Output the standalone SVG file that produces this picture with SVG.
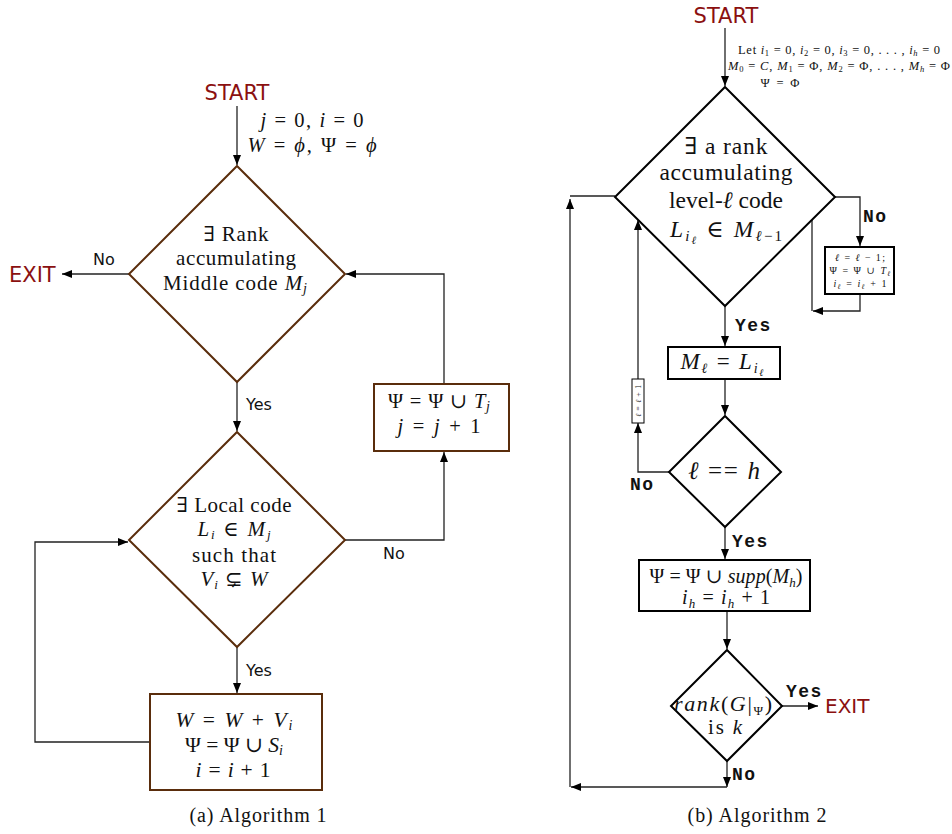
<svg xmlns="http://www.w3.org/2000/svg" width="952" height="834" viewBox="0 0 952 834">
<style>
.bg{fill:#fff}
.m{font-family:"Liberation Serif","DejaVu Serif","Times New Roman",serif;fill:#111}
.i{font-style:italic}
.red{font-family:"DejaVu Sans","Noto Sans",sans-serif;fill:#8b1010}
.lab{font-family:"DejaVu Sans","Noto Sans",sans-serif;font-size:16px;fill:#111}
.tt{font-family:"Liberation Mono","Courier New",monospace;font-weight:bold;font-size:18px;letter-spacing:1.5px;fill:#111}
.bn{fill:#fff;stroke:#5a2d0c;stroke-width:2}
.kn{fill:#fff;stroke:#000;stroke-width:2}
.c{fill:none;stroke:#222;stroke-width:1.3}
.ca{fill:none;stroke:#222;stroke-width:1.3;marker-end:url(#ah)}
</style>
<defs>
<marker id="ah" markerUnits="userSpaceOnUse" markerWidth="10" markerHeight="8" refX="10" refY="4" orient="auto">
<path d="M0,0 L10,4 L0,8 z" fill="#000"/>
</marker>
</defs>
<rect class="bg" x="0" y="0" width="952" height="834"/>

<!-- ============ Algorithm 1 ============ -->
<g id="connectors-a">
<path class="ca" d="M237,106 L237,165"/>
<path class="ca" d="M129,274 L62,274"/>
<path class="ca" d="M237,382 L237,431"/>
<path class="ca" d="M444,384 L444,274 L346,274"/>
<path class="ca" d="M345,540 L444,540 L444,452"/>
<path class="ca" d="M237,647 L237,693"/>
<path class="ca" d="M150,742 L35,742 L35,542 L128,542"/>
</g>

<g id="a-start"><text class="red" x="237" y="100" font-size="21" text-anchor="middle">START</text></g>
<g id="a-init">
<text class="m" x="312" y="127" font-size="20.5" text-anchor="middle" textLength="103" lengthAdjust="spacing"><tspan class="i">j</tspan> = 0, <tspan class="i">i</tspan> = 0</text>
<text class="m" x="312" y="152" font-size="20.5" text-anchor="middle" textLength="129" lengthAdjust="spacing"><tspan class="i">W</tspan> = <tspan class="i">ϕ</tspan>, Ψ = <tspan class="i">ϕ</tspan></text>
</g>
<g id="a-exit"><text class="red" x="9" y="282" font-size="21">EXIT</text></g>
<g id="a-labels">
<text class="lab" x="93" y="265">No</text>
<text class="lab" x="246" y="410">Yes</text>
<text class="lab" x="383" y="559">No</text>
<text class="lab" x="246" y="676">Yes</text>
</g>

<g id="a-d1">
<polygon class="bn" points="237,166 345,274 237,382 129,274"/>
<text class="m" x="236" y="241" font-size="21" text-anchor="middle" textLength="65" lengthAdjust="spacing">∃ Rank</text>
<text class="m" x="236" y="265" font-size="21" text-anchor="middle" textLength="120" lengthAdjust="spacing">accumulating</text>
<text class="m" x="235" y="290" font-size="21" text-anchor="middle" textLength="144" lengthAdjust="spacing">Middle code <tspan class="i">M</tspan><tspan class="i" font-size="14" dy="3">j</tspan></text>
</g>

<g id="a-box-t">
<rect class="bn" x="374" y="384" width="135" height="67"/>
<text class="m" x="439" y="408" font-size="20.5" text-anchor="middle" textLength="102" lengthAdjust="spacing">Ψ = Ψ ∪ <tspan class="i">T</tspan><tspan class="i" font-size="14" dy="3">j</tspan></text>
<text class="m" x="439" y="433" font-size="20.5" text-anchor="middle" textLength="83" lengthAdjust="spacing"><tspan class="i">j</tspan> = <tspan class="i">j</tspan> + 1</text>
</g>

<g id="a-d2">
<polygon class="bn" points="237,432 345,540 237,647 129,540"/>
<text class="m" x="234" y="512" font-size="21" text-anchor="middle" textLength="115" lengthAdjust="spacing">∃ Local code</text>
<text class="m" x="234" y="536" font-size="21" text-anchor="middle" textLength="73" lengthAdjust="spacing"><tspan class="i">L</tspan><tspan class="i" font-size="13" dy="3">i</tspan><tspan dy="-3"> ∈ </tspan><tspan class="i">M</tspan><tspan class="i" font-size="13" dy="3">j</tspan></text>
<text class="m" x="234" y="562" font-size="21" text-anchor="middle" textLength="84" lengthAdjust="spacing">such that</text>
<text class="m" x="234" y="586" font-size="21" text-anchor="middle" textLength="67" lengthAdjust="spacing"><tspan class="i">V</tspan><tspan class="i" font-size="13" dy="3">i</tspan><tspan dy="-3"> ⊊ </tspan><tspan class="i">W</tspan></text>
</g>

<g id="a-box-w">
<rect class="bn" x="150" y="694" width="172" height="96"/>
<text class="m" x="234" y="727" font-size="21.5" text-anchor="middle" textLength="117" lengthAdjust="spacing"><tspan class="i">W</tspan> = <tspan class="i">W</tspan> + <tspan class="i">V</tspan><tspan class="i" font-size="14" dy="3">i</tspan></text>
<text class="m" x="234" y="752" font-size="21.5" text-anchor="middle" textLength="98" lengthAdjust="spacing">Ψ = Ψ ∪ <tspan class="i">S</tspan><tspan class="i" font-size="14" dy="3">i</tspan></text>
<text class="m" x="233" y="777" font-size="21.5" text-anchor="middle" textLength="75" lengthAdjust="spacing"><tspan class="i">i</tspan> = <tspan class="i">i</tspan> + 1</text>
</g>

<g id="caption-a"><text class="m" x="258" y="822" font-size="20" text-anchor="middle" textLength="137" lengthAdjust="spacing">(a)  Algorithm 1</text></g>

<!-- ============ Algorithm 2 ============ -->
<g id="connectors-b">
<path class="ca" d="M725,28 L725,86"/>
<path class="ca" d="M835,197 L860,197 L860,246"/>
<path class="ca" d="M860,294 L860,311 L813,311"/>
<path class="c" d="M812,219 L812,311"/>
<path class="ca" d="M725,306 L725,346"/>
<path class="ca" d="M725,379 L725,415"/>
<path class="ca" d="M669,472 L638,472 L638,423"/>
<path class="ca" d="M638,379 L638,220"/>
<path class="ca" d="M725,527 L725,559"/>
<path class="ca" d="M727,611 L727,649"/>
<path class="ca" d="M782,706 L818,706"/>
<path class="ca" d="M727,761 L727,787"/>
<path class="ca" d="M727,787 L571,787"/>
<path class="ca" d="M570,787 L570,199"/>
<path class="c" d="M570,196 L615,196"/>
</g>

<g id="b-start"><text class="red" x="726" y="23" font-size="21" text-anchor="middle">START</text></g>
<g id="b-init">
<text class="m" x="839" y="54" font-size="12.5" text-anchor="middle" textLength="202" lengthAdjust="spacing">Let <tspan class="i">i</tspan><tspan font-size="8.5" dy="2">1</tspan><tspan dy="-2"> = 0, </tspan><tspan class="i">i</tspan><tspan font-size="8.5" dy="2">2</tspan><tspan dy="-2"> = 0, </tspan><tspan class="i">i</tspan><tspan font-size="8.5" dy="2">3</tspan><tspan dy="-2"> = 0, . . . , </tspan><tspan class="i">i</tspan><tspan class="i" font-size="8.5" dy="2">h</tspan><tspan dy="-2"> = 0</tspan></text>
<text class="m" x="839" y="70" font-size="12.5" text-anchor="middle" textLength="222" lengthAdjust="spacing"><tspan class="i">M</tspan><tspan font-size="8.5" dy="2">0</tspan><tspan dy="-2"> = </tspan><tspan class="i">C</tspan>, <tspan class="i">M</tspan><tspan font-size="8.5" dy="2">1</tspan><tspan dy="-2"> = Φ, </tspan><tspan class="i">M</tspan><tspan font-size="8.5" dy="2">2</tspan><tspan dy="-2"> = Φ, . . . , </tspan><tspan class="i">M</tspan><tspan class="i" font-size="8.5" dy="2">h</tspan><tspan dy="-2"> = Φ</tspan></text>
<text class="m" x="780" y="87" font-size="12.5" text-anchor="middle" textLength="39" lengthAdjust="spacing">Ψ = Φ</text>
</g>

<g id="b-labels">
<text class="tt" x="863" y="222">No</text>
<text class="tt" x="735" y="331">Yes</text>
<text class="tt" x="630" y="490">No</text>
<text class="tt" x="732" y="547">Yes</text>
<text class="tt" x="786" y="697" font-size="14" letter-spacing="1">Yes</text>
<text class="tt" x="732" y="780">No</text>
</g>
<g id="b-exit"><text class="red" x="825" y="713" font-size="20">EXIT</text></g>

<g id="b-d1">
<polygon class="kn" points="725,87 835,197 725,306 615,197"/>
<text class="m" x="726" y="154" font-size="23.5" text-anchor="middle" textLength="83" lengthAdjust="spacing">∃ a rank</text>
<text class="m" x="726" y="180" font-size="23.5" text-anchor="middle" textLength="133" lengthAdjust="spacing">accumulating</text>
<text class="m" x="726" y="208" font-size="23.5" text-anchor="middle" textLength="114" lengthAdjust="spacing">level-<tspan class="i">ℓ</tspan> code</text>
<text class="m" x="726" y="237" font-size="23.5" text-anchor="middle" textLength="112" lengthAdjust="spacing"><tspan class="i">L</tspan><tspan class="i" font-size="15" dy="4">i</tspan><tspan class="i" font-size="11" dy="3">ℓ</tspan><tspan dy="-7"> ∈ </tspan><tspan class="i">M</tspan><tspan class="i" font-size="15" dy="4">ℓ</tspan><tspan font-size="15">−1</tspan></text>
</g>

<g id="b-box-dec">
<rect class="kn" x="825" y="247" width="69" height="47"/>
<text class="m" x="860" y="261" font-size="10" text-anchor="middle" textLength="50" lengthAdjust="spacing"><tspan class="i">ℓ</tspan> = <tspan class="i">ℓ</tspan> − 1;</text>
<text class="m" x="860" y="274" font-size="10" text-anchor="middle" textLength="61" lengthAdjust="spacing">Ψ = Ψ ∪ <tspan class="i">T</tspan><tspan class="i" font-size="7" dy="2">ℓ</tspan></text>
<text class="m" x="860" y="287" font-size="10" text-anchor="middle" textLength="53" lengthAdjust="spacing"><tspan class="i">i</tspan><tspan class="i" font-size="7" dy="2">ℓ</tspan><tspan dy="-2"> = </tspan><tspan class="i">i</tspan><tspan class="i" font-size="7" dy="2">ℓ</tspan><tspan dy="-2"> + 1</tspan></text>
</g>

<g id="b-box-m">
<rect class="kn" x="668" y="347" width="112" height="32"/>
<text class="m" x="722" y="369" font-size="23" text-anchor="middle" textLength="83" lengthAdjust="spacing"><tspan class="i">M</tspan><tspan class="i" font-size="14" dy="4">ℓ</tspan><tspan dy="-4"> = </tspan><tspan class="i">L</tspan><tspan class="i" font-size="14" dy="4">i</tspan><tspan class="i" font-size="10" dy="3">ℓ</tspan></text>
</g>

<g id="b-box-inc">
<rect x="632" y="379" width="12" height="44" fill="#fff" stroke="#000" stroke-width="1"/>
<text class="m" font-size="7.5" text-anchor="middle" transform="translate(640.5,401) rotate(-90)" textLength="32" lengthAdjust="spacing"><tspan class="i">ℓ</tspan> = <tspan class="i">ℓ</tspan> + 1</text>
</g>

<g id="b-d2">
<polygon class="kn" points="725,416 781,472 725,527 669,472"/>
<text class="m" x="724" y="479" font-size="25" text-anchor="middle" textLength="72" lengthAdjust="spacing"><tspan class="i">ℓ</tspan> == <tspan class="i">h</tspan></text>
</g>

<g id="b-box-psi">
<rect class="kn" x="639" y="560" width="171" height="51"/>
<text class="m" x="726" y="583" font-size="20" text-anchor="middle" textLength="153" lengthAdjust="spacing">Ψ = Ψ ∪ <tspan class="i">supp</tspan>(<tspan class="i">M</tspan><tspan class="i" font-size="13" dy="4">h</tspan><tspan dy="-4">)</tspan></text>
<text class="m" x="726" y="604" font-size="20" text-anchor="middle" textLength="88" lengthAdjust="spacing"><tspan class="i">i</tspan><tspan class="i" font-size="13" dy="4">h</tspan><tspan dy="-4"> = </tspan><tspan class="i">i</tspan><tspan class="i" font-size="13" dy="4">h</tspan><tspan dy="-4"> + 1</tspan></text>
</g>

<g id="b-d3">
<polygon class="kn" points="727,650 782,706 727,761 671,706"/>
<text class="m" x="723" y="711" font-size="22" text-anchor="middle" textLength="98" lengthAdjust="spacing"><tspan class="i">rank</tspan>(<tspan class="i">G</tspan>|<tspan font-size="13" dy="4">Ψ</tspan><tspan dy="-4">)</tspan></text>
<text class="m" x="725" y="734" font-size="21" text-anchor="middle" textLength="34" lengthAdjust="spacing">is <tspan class="i">k</tspan></text>
</g>

<g id="caption-b"><text class="m" x="757" y="822" font-size="20" text-anchor="middle" textLength="139" lengthAdjust="spacing">(b)  Algorithm 2</text></g>
</svg>
